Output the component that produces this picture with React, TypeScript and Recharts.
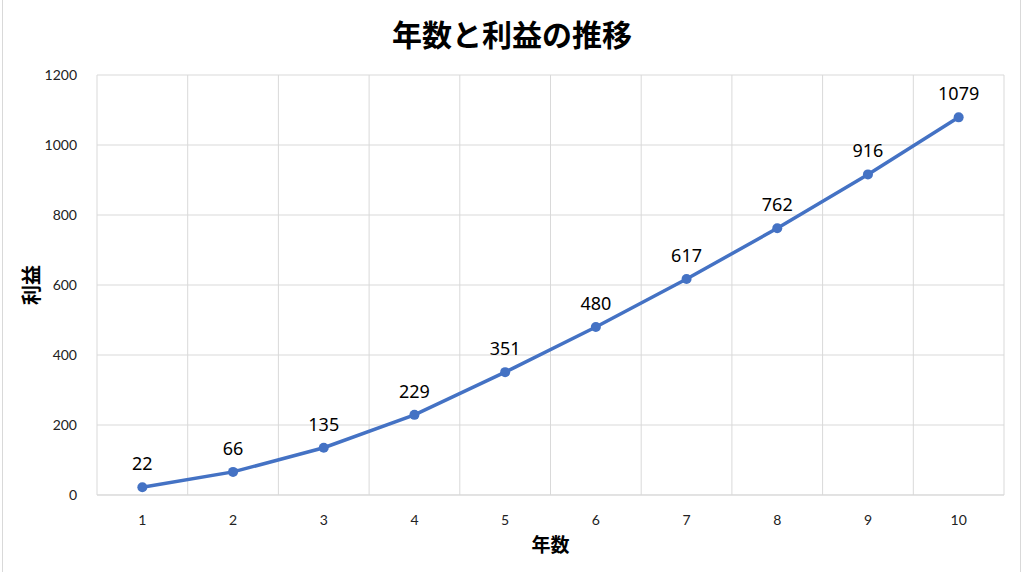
import React from "react";
import {
  LineChart,
  Line,
  XAxis,
  YAxis,
  CartesianGrid,
  LabelList,
  Label,
} from "recharts";

const years = [1, 2, 3, 4, 5, 6, 7, 8, 9, 10];
const profits = [22, 66, 135, 229, 351, 480, 617, 762, 916, 1079];
const yTicks = [0, 200, 400, 600, 800, 1000, 1200];

const data = years.map((year, i) => ({ year, profit: profits[i] }));

const LINE_COLOR = "#4472C4";
const GRID_COLOR = "#d9d9d9";

// Excel-style vertical grid: lines on category boundaries, not on ticks
const categoryBoundaries = ({ offset }: any) => {
  const n = years.length;
  const out: number[] = [];
  for (let i = 0; i <= n; i++) out.push(offset.left + (offset.width * i) / n);
  return out;
};

const App: React.FC = () => {
  return (
    <div
      style={{
        position: "absolute",
        left: 0,
        top: 0,
        width: 1024,
        height: 572,
        background: "#fff",
        fontFamily: "'Noto Sans CJK JP', 'Noto Sans', sans-serif",
      }}
    >
      <div
        style={{
          position: "absolute",
          left: 2,
          top: 0,
          width: 1019,
          height: 572,
          borderLeft: "1px solid #d9d9d9",
          borderRight: "1px solid #d9d9d9",
          boxSizing: "border-box",
        }}
      />
      <div
        style={{
          position: "absolute",
          left: 0,
          top: 12,
          width: 1024,
          textAlign: "center",
          fontSize: 30,
          fontWeight: 700,
          color: "#000",
          lineHeight: "42px",
        }}
      >
        年数と利益の推移
      </div>
      <LineChart
        width={1024}
        height={572}
        data={data}
        margin={{ top: 75, right: 20, bottom: 0, left: 0 }}
      >
        <CartesianGrid
          stroke={GRID_COLOR}
          verticalCoordinatesGenerator={categoryBoundaries}
        />
        <XAxis
          dataKey="year"
          type="number"
          domain={[0.5, 10.5]}
          ticks={years}
          height={77}
          axisLine={{ stroke: GRID_COLOR }}
          tickLine={false}
          tickMargin={14}
          tick={{ fill: "#222", fontSize: 14, fontFamily: "Lato, 'Noto Sans', sans-serif" }}
        >
          <Label
            value="年数"
            position="insideBottom"
            offset={20}
            style={{ fontSize: 19, fontWeight: 700, fill: "#000" }}
          />
        </XAxis>
        <YAxis
          width={97}
          domain={[0, 1200]}
          ticks={yTicks}
          axisLine={false}
          tickLine={false}
          tickMargin={14}
          tick={{ fill: "#222", fontSize: 14, fontFamily: "Lato, 'Noto Sans', sans-serif" }}
        >
          <Label
            value="利益"
            angle={-90}
            position="insideLeft"
            offset={32}
            style={{ fontSize: 20, fontWeight: 700, fill: "#000", textAnchor: "middle" }}
          />
        </YAxis>
        <Line
          type="linear"
          dataKey="profit"
          stroke={LINE_COLOR}
          strokeWidth={3.5}
          dot={{ r: 5, fill: LINE_COLOR, stroke: LINE_COLOR, strokeWidth: 0 }}
          activeDot={false}
          isAnimationActive={false}
        >
          <LabelList
            dataKey="profit"
            position="top"
            offset={17}
            style={{ fontSize: 18, fill: "#000", fontFamily: "'Noto Sans', sans-serif" }}
          />
        </Line>
      </LineChart>
    </div>
  );
};

export default App;
